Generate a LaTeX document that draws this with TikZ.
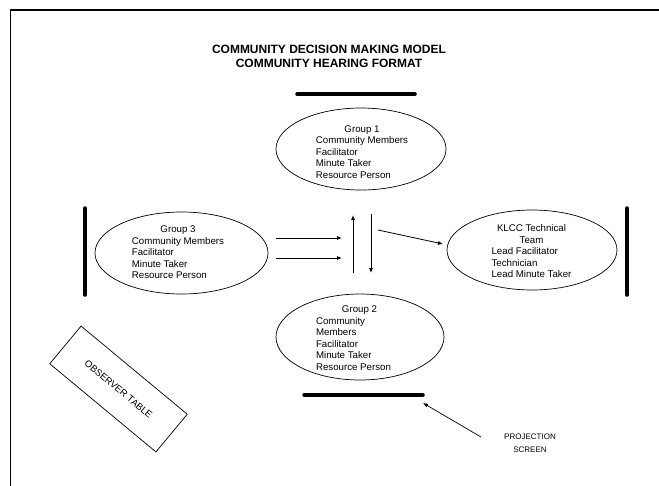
\documentclass[tikz,border=0pt]{standalone}
\usepackage{fontspec}
\setmainfont{Liberation Sans}
\usetikzlibrary{shapes.geometric,arrows.meta}
\begin{document}
\begin{tikzpicture}[x=1pt,y=-1pt,
  grp/.style={ellipse, draw, line width=0.7pt, inner sep=0pt},
  txt/.style={inner sep=0pt, font=\fontsize{9.7}{11.5}\selectfont},
  bar/.style={line width=3.5pt, line cap=round},
  frame/.style={line width=1.8pt},
  arr/.style={line width=0.8pt, -{Latex[length=5pt,width=4pt]}}
]
\useasboundingbox (0,0) rectangle (659,485);
% frame
\coordinate (ftl) at (10.5,10);
\coordinate (ftr) at (660,10);
\coordinate (fbl) at (10.5,486);
\draw[frame] (fbl) -- (ftl) -- (ftr);
% title
\node[inner sep=0pt, align=center, font=\fontsize{12}{14}\bfseries\selectfont] (title) at (329,56)
  {COMMUNITY DECISION MAKING MODEL\\COMMUNITY HEARING FORMAT};
% bars
\coordinate (b1a) at (297,94);  \coordinate (b1b) at (415,94);
\coordinate (b3a) at (85,208);  \coordinate (b3b) at (85,295);
\coordinate (bka) at (627,208); \coordinate (bkb) at (627,295);
\coordinate (b2a) at (304,395); \coordinate (b2b) at (423,395);
\draw[bar] (b1a) -- (b1b);
\draw[bar] (b3a) -- (b3b);
\draw[bar] (bka) -- (bkb);
\draw[bar] (b2a) -- (b2b);
% ellipses
\node[grp, minimum width=170pt, minimum height=82pt] (g1) at (361,149) {};
\node[txt] (g1t) at (362,153) {\begin{tabular}{@{}l@{}}\multicolumn{1}{@{}c@{}}{Group 1}\\Community Members\\Facilitator\\Minute Taker\\Resource Person\end{tabular}};
\node[grp, minimum width=173pt, minimum height=82pt] (g3) at (181.5,253) {};
\node[txt] (g3t) at (178,253.5) {\begin{tabular}{@{}l@{}}\multicolumn{1}{@{}c@{}}{Group 3}\\Community Members\\Facilitator\\Minute Taker\\Resource Person\end{tabular}};
\node[grp, minimum width=170pt, minimum height=80pt] (kl) at (532,250) {};
\node[txt] (klt) at (531.5,252.5) {\begin{tabular}{@{}l@{}}\multicolumn{1}{@{}c@{}}{KLCC Technical}\\\multicolumn{1}{@{}c@{}}{Team}\\Lead Facilitator\\Technician\\Lead Minute Taker\end{tabular}};
\node[grp, minimum width=168pt, minimum height=86pt] (g2) at (360,337) {};
\node[txt] (g2t) at (353.5,339) {\begin{tabular}{@{}l@{}}\multicolumn{1}{@{}c@{}}{\hspace{12pt}Group 2}\\Community\\Members\\Facilitator\\Minute Taker\\Resource Person\end{tabular}};
% arrows
\coordinate (a1s) at (276,238); \coordinate (a1e) at (342,238);
\coordinate (a2s) at (276,258); \coordinate (a2e) at (342,258);
\coordinate (ups) at (353,273); \coordinate (upe) at (353,215);
\coordinate (dns) at (371,214); \coordinate (dne) at (371,273);
\coordinate (dgs) at (378,230); \coordinate (dge) at (443,244);
\draw[arr] (a1s) -- (a1e);
\draw[arr] (a2s) -- (a2e);
\draw[arr] (ups) -- (upe);
\draw[arr] (dns) -- (dne);
\draw[arr] (dgs) -- (dge);
% projection screen label
\node[inner sep=0pt, align=center, font=\fontsize{8}{12.5}\selectfont] (proj) at (530,443) {PROJECTION\\SCREEN};
\coordinate (prs) at (481,437); \coordinate (pre) at (423,403);
\draw[line width=0.7pt, -{Latex[length=5pt,width=4pt]}] (prs) -- (pre);
% observer table
\node[draw, line width=0.7pt, rotate=-39.7, minimum width=138pt, minimum height=49pt, inner sep=0pt, font=\fontsize{9.5}{11}\selectfont] (obs) at (118.5,389) {OBSERVER TABLE};
\end{tikzpicture}
\end{document}
